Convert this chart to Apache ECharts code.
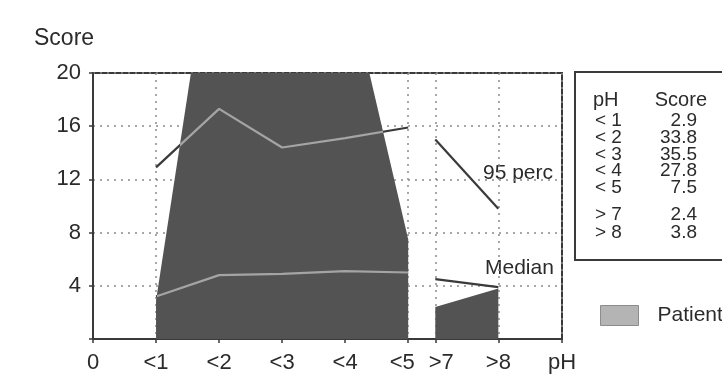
<!DOCTYPE html>
<html>
<head>
<meta charset="utf-8">
<script src="https://cdn.jsdelivr.net/npm/echarts@6/dist/echarts.min.js"></script>
<style>
  html, body { margin: 0; padding: 0; background: #ffffff; }
  #chart { width: 722px; height: 383px; }
</style>
</head>
<body>
<div id="chart"></div>
<script>
// pH classes, their table spelling and their place on the horizontal scale
const phClasses = ['<1', '<2', '<3', '<4', '<5', '>7', '>8'];
const phTableLabels = ['< 1', '< 2', '< 3', '< 4', '< 5', '> 7', '> 8'];
const phPositions = [1, 2, 3, 4, 5, 5.43, 6.43];
const axisEnd = 7.44;

// patient score per pH class
const patientScores = [2.9, 33.8, 35.5, 27.8, 7.5, 2.4, 3.8];

// reference curves
const perc95 = [12.9, 17.3, 14.4, 15.1, 15.9, 15.0, 9.8];
const median = [3.2, 4.8, 4.9, 5.1, 5.0, 4.5, 3.9];

// vertical scale
const scoreMin = 0;
const scoreMax = 20;
const scoreStep = 4;

// the first five classes are acid, the last two alkaline
const acidCount = 5;

const DARK = '#3a3a3a';
const FILL = '#535353';
const LIGHT = '#a4a4a4';
const TEXT = '#2b2b2b';
const FONT = '"Liberation Sans", Arial, Helvetica, sans-serif';

function points(values, from, to) {
  const out = [];
  for (let i = from; i < to; i++) out.push([phPositions[i], values[i]]);
  return out;
}

// colour a curve light where it runs inside the patient area, dark elsewhere
function shadePieces(area, line, xs) {
  const cuts = [];
  for (let k = 0; k < xs.length - 1; k++) {
    const d0 = area[k] - line[k];
    const d1 = area[k + 1] - line[k + 1];
    if ((d0 > 0) !== (d1 > 0)) cuts.push(xs[k] + d0 / (d0 - d1) * (xs[k + 1] - xs[k]));
  }
  const pieces = [];
  let inside = area[0] > line[0];
  let lo = -1e9;
  cuts.concat([1e9]).forEach(function (c) {
    pieces.push({ gte: lo, lt: c, color: inside ? LIGHT : DARK });
    lo = c;
    inside = !inside;
  });
  return pieces;
}

const acidX = phPositions.slice(0, acidCount);
const tickValues = [0].concat(phPositions, [axisEnd]);
const tickText = {};
tickText[0] = '0';
phPositions.forEach(function (p, i) { tickText[p] = phClasses[i]; });
tickText[axisEnd] = 'pH';

// score table beside the plot
const tableX = 575, tableY = 72, tableW = 160, tableH = 188;
const tableItems = [
  { type: 'rect', shape: { x: tableX, y: tableY, width: tableW, height: tableH },
    style: { fill: 'none', stroke: DARK, lineWidth: 2 } },
  { type: 'text', x: 593, y: 100, style: { text: 'pH', font: '20px ' + FONT, fill: TEXT, textVerticalAlign: 'middle' } },
  { type: 'text', x: 707, y: 100, style: { text: 'Score', font: '20px ' + FONT, fill: TEXT, textAlign: 'right', textVerticalAlign: 'middle' } }
];
phTableLabels.forEach(function (lab, i) {
  const y = i < acidCount ? 121 + i * 16.7 : 215 + (i - acidCount) * 17.5;
  tableItems.push({ type: 'text', x: 595, y: y,
    style: { text: lab, font: '19px ' + FONT, fill: TEXT, textVerticalAlign: 'middle' } });
  tableItems.push({ type: 'text', x: 697, y: y,
    style: { text: patientScores[i].toFixed(1), font: '19px ' + FONT, fill: TEXT, textAlign: 'right', textVerticalAlign: 'middle' } });
});

const chart = echarts.init(document.getElementById('chart'), null, { renderer: 'canvas' });

chart.setOption({
  animation: false,
  backgroundColor: '#ffffff',
  grid: {
    left: 93, right: 160, top: 73, bottom: 44,
    show: true, borderColor: DARK, borderWidth: 2, backgroundColor: 'transparent'
  },
  xAxis: {
    type: 'value', min: 0, max: axisEnd,
    axisLine: { show: true, lineStyle: { color: DARK, width: 2 } },
    axisTick: { show: true, customValues: tickValues, length: 4, lineStyle: { color: DARK, width: 1.5 } },
    axisLabel: {
      customValues: tickValues, margin: 13,
      fontSize: 22, fontFamily: FONT, color: TEXT,
      formatter: function (v) {
        const t = tickText[v];
        if (t === '<5') return '{l|' + t + '}';
        if (t === '>7') return '{r|' + t + '}';
        return t === undefined ? '' : t;
      },
      rich: {
        l: { fontSize: 22, fontFamily: FONT, color: TEXT, padding: [0, 12, 0, 0] },
        r: { fontSize: 22, fontFamily: FONT, color: TEXT, padding: [0, 0, 0, 12] }
      }
    },
    splitLine: { show: true, lineStyle: { color: '#8a8a8a', width: 1.5, type: [2, 5] } }
  },
  yAxis: {
    type: 'value', min: scoreMin, max: scoreMax, interval: scoreStep,
    axisLine: { show: true, lineStyle: { color: DARK, width: 2 } },
    axisTick: { show: true, length: 4, lineStyle: { color: DARK, width: 1.5 } },
    axisLabel: {
      margin: 12, fontSize: 22, fontFamily: FONT, color: TEXT,
      formatter: function (v) { return v === 0 ? '' : String(v); }
    },
    splitLine: { show: true, lineStyle: { color: '#8a8a8a', width: 1.5, type: [2, 5] } }
  },
  legend: {
    left: 595, top: 300, itemWidth: 38, itemHeight: 20, itemGap: 10,
    icon: 'rect',
    textStyle: { fontSize: 21, fontFamily: FONT, color: TEXT, padding: [0, 0, 0, 14] },
    data: [{ name: 'Patient', itemStyle: { color: '#b4b4b4', borderColor: '#8c8c8c', borderWidth: 1 } }]
  },
  visualMap: [
    { type: 'piecewise', show: false, dimension: 0, seriesIndex: 2,
      pieces: shadePieces(patientScores.slice(0, acidCount), perc95.slice(0, acidCount), acidX) },
    { type: 'piecewise', show: false, dimension: 0, seriesIndex: 4,
      pieces: shadePieces(patientScores.slice(0, acidCount), median.slice(0, acidCount), acidX) }
  ],
  series: [
    { name: 'Patient', type: 'line', data: points(patientScores, 0, acidCount),
      showSymbol: false, symbol: 'none', lineStyle: { width: 0 }, itemStyle: { color: FILL },
      areaStyle: { color: FILL, opacity: 1 }, z: 2 },
    { name: 'Patient', type: 'line', data: points(patientScores, acidCount, phPositions.length),
      showSymbol: false, symbol: 'none', lineStyle: { width: 0 }, itemStyle: { color: FILL },
      areaStyle: { color: FILL, opacity: 1 }, z: 2 },
    { name: '95 perc', type: 'line', data: points(perc95, 0, acidCount),
      symbol: 'none', lineStyle: { width: 2.2 }, z: 3 },
    { name: '95 perc', type: 'line', data: points(perc95, acidCount, phPositions.length),
      symbol: 'none', lineStyle: { width: 2.2, color: DARK }, itemStyle: { color: DARK }, z: 3 },
    { name: 'Median', type: 'line', data: points(median, 0, acidCount),
      symbol: 'none', lineStyle: { width: 2.2 }, z: 3 },
    { name: 'Median', type: 'line', data: points(median, acidCount, phPositions.length),
      symbol: 'none', lineStyle: { width: 2.2, color: DARK }, itemStyle: { color: DARK }, z: 3 }
  ],
  graphic: [
    { type: 'text', left: 34, top: 27, style: { text: 'Score', font: '23px ' + FONT, fill: TEXT } },
    { type: 'text', x: 483, y: 173, style: { text: '95 perc', font: '21px ' + FONT, fill: TEXT, textVerticalAlign: 'middle' } },
    { type: 'text', x: 485, y: 268, style: { text: 'Median', font: '21px ' + FONT, fill: TEXT, textVerticalAlign: 'middle' } }
  ].concat(tableItems)
});
</script>
</body>
</html>
